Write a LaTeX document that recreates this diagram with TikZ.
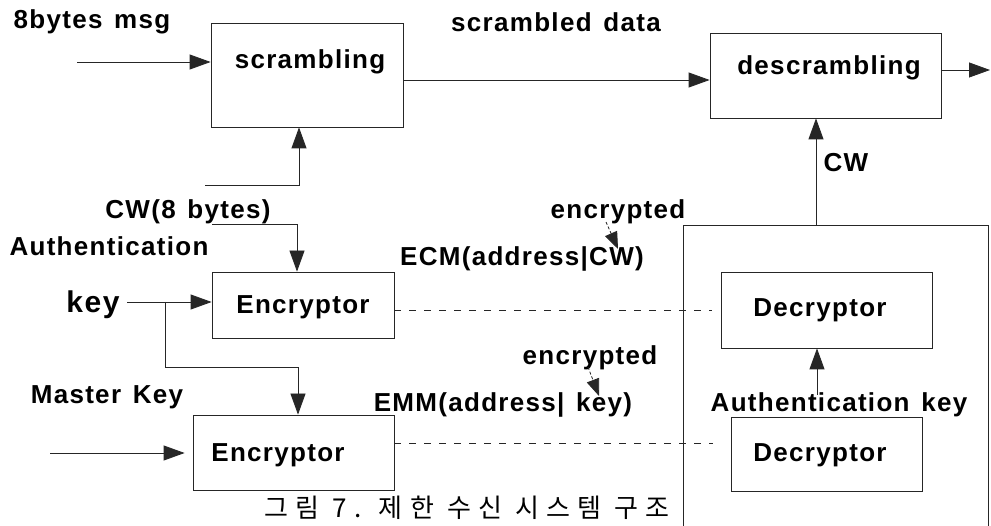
\documentclass[tikz,border=0pt]{standalone}
\usepackage{fontspec}
\setmainfont{Liberation Sans}[LetterSpace=5]
\newfontfamily\kr{Noto Sans CJK KR}[LetterSpace=28]
\usetikzlibrary{arrows.meta,calc}
\newcommand{\wsp}{\hspace{0.45em}}
\begin{document}
\begin{tikzpicture}[x=1pt,y=-1pt,
  txt/.style={inner sep=0pt,font=\fontsize{26}{29}\selectfont\bfseries},
  blk/.style={draw=black!85,line width=0.8pt,inner sep=0pt},
  conn/.style={draw=black!85,line width=0.8pt},
  arr/.style={conn,-{Triangle[length=21pt,width=15pt]}},
  dsh/.style={conn,dash pattern=on 7pt off 8pt},
  sarr/.style={conn,densely dashed,-{Triangle[length=17pt,width=13pt]}}]
\useasboundingbox[fill=white] (0,0) rectangle (991,526);
% boxes
\node[blk,minimum width=192pt,minimum height=104pt] (scr) at (307,75) {};
\node[blk,minimum width=231pt,minimum height=85pt] (des) at (825.5,75.5) {};
\node[blk,minimum width=182pt,minimum height=66pt] (enc1) at (303,305) {};
\node[blk,minimum width=201pt,minimum height=75pt] (enc2) at (293.5,452.5) {};
\node[blk,minimum width=211pt,minimum height=76pt] (dec1) at (826.5,310) {};
\node[blk,minimum width=191pt,minimum height=74pt] (dec2) at (826.5,454) {};
\draw[conn] (683,527) -- (683,225) -- (988,225) -- (988,527);
\coordinate (bt) at (816,225);
% texts
\node[txt] (tmsg) at (92,22) {8bytes\wsp msg};
\node[txt] (tsd) at (556,22) {scrambled\wsp data};
\node[txt] at (310,62) {scrambling};
\node[txt] at (829,68) {descrambling};
\node[txt] (tcw8) at (188,212) {CW(8\wsp bytes)};
\node[txt] (tauth) at (109,246) {Authentication};
\node[txt,font=\fontsize{30}{33}\selectfont\bfseries] (tkey) at (93,305) {key};
\node[txt] at (303,307) {Encryptor};
\node[txt] (tmk) at (107,397) {Master\wsp Key};
\node[txt] at (278,455) {Encryptor};
\node[txt] (tecm) at (522,259) {ECM(address|CW)};
\node[txt] (ten1) at (618,212) {encrypted};
\node[txt] (ten2) at (590,358) {encrypted};
\node[txt] (temm) at (503,405) {EMM(address|\wsp key)};
\node[txt] (tcw) at (846,163) {CW};
\node[txt] at (820,310) {Decryptor};
\node[txt] at (820,455) {Decryptor};
\node[txt] (tak) at (839,405) {Authentication\wsp key};
\node[inner sep=0pt,font=\kr\fontsize{26}{29}\selectfont] (cap) at (467,508) {그림 7. 제한 수신 시스템 구조};
% connectors
\coordinate (in1) at (77,62);
\draw[arr] (in1) -- (in1 -| scr.west);
\draw[arr] ([yshift=-5pt]scr.east) -- ([yshift=-5pt]scr.east -| des.west);
\coordinate (out) at (990,70);
\draw[arr] (out -| des.east) -- (out);
\coordinate (c1) at (205,185);
\draw[arr] (c1) -| ([xshift=-8pt]scr.south);
\coordinate (c2) at (212,224);
\draw[arr] (c2) -| ([xshift=-6pt]enc1.north);
\coordinate (k1) at (127,302);
\draw[arr] (k1) -- (k1 -| enc1.west);
\coordinate (k2) at (165,302);
\coordinate (kb) at (165,367);
\draw[arr] (k2) -- (kb) -| ([xshift=4.5pt]enc2.north);
\coordinate (m1) at (50,453);
\draw[arr,shorten >=8pt] (m1) -- (m1 -| enc2.west);
\draw[dsh,shorten >=9pt] (dec1.west -| enc1.east) -- (dec1.west);
\draw[dsh,shorten >=18pt] ([yshift=9.5pt]enc2.east) -- ([yshift=9.5pt]enc2.east -| dec2.west);
\draw[arr] (bt) -- (bt |- des.south);
\coordinate (ak) at (817,395);
\draw[arr] (ak) -- (ak |- dec1.south);
\coordinate (e1a) at (606,222);
\coordinate (e1b) at (618,249);
\draw[sarr] (e1a) -- (e1b);
\coordinate (e2a) at (588,367);
\coordinate (e2b) at (599,396);
\draw[sarr] (e2a) -- (e2b);
\end{tikzpicture}
\end{document}
